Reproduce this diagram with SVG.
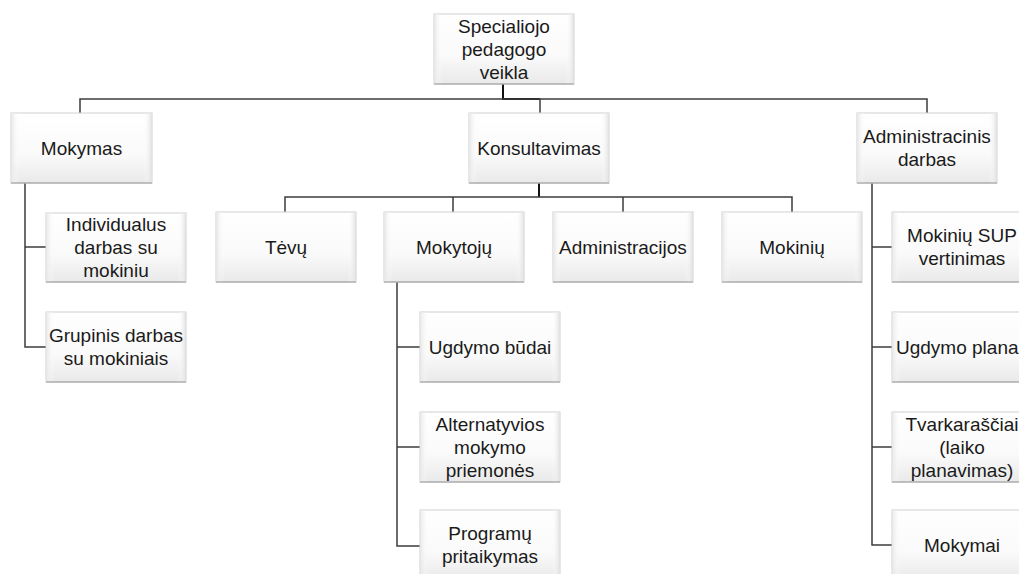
<svg xmlns="http://www.w3.org/2000/svg" width="1019" height="574" viewBox="0 0 1019 574">
<defs>
<linearGradient id="bg" x1="0" y1="0" x2="0" y2="1">
<stop offset="0" stop-color="#ffffff"/>
<stop offset="0.6" stop-color="#fafafa"/>
<stop offset="1" stop-color="#e9e9e9"/>
</linearGradient>
<linearGradient id="side" x1="0" y1="0" x2="1" y2="0">
<stop offset="0" stop-color="#e6e6e6"/>
<stop offset="0.06" stop-color="#ffffff" stop-opacity="0"/>
<stop offset="0.94" stop-color="#ffffff" stop-opacity="0"/>
<stop offset="1" stop-color="#e0e0e0"/>
</linearGradient>
</defs>
<style>
.box{fill:url(#bg);stroke:#cfcfcf;stroke-width:1}
.bev{fill:url(#side);stroke:none}
.bot{stroke:#9a9a9a;stroke-width:1.2}
.t{font-family:"Liberation Sans",Arial,sans-serif;font-size:19px;fill:#1a1a1a;text-anchor:middle}
.c{fill:none;stroke:#3c3c3c;stroke-width:1.5}
.cd{fill:none;stroke:#111;stroke-width:2}
</style>
<g id="connectors">
<path class="cd" d="M503,84 V99 H540"/>
<path class="c" d="M80,113 V99 H927 V113 M540,99 V113"/>
<path class="cd" d="M539,183 V197"/>
<path class="c" d="M285,212 V197 H792 V212 M453,197 V212 M623,197 V212"/>
<path class="c" d="M25,183 V347 H46 M25,247 H46"/>
<path class="c" d="M397,282 V546 H420 M397,347 H420 M397,447 H420"/>
<path class="c" d="M872,183 V545 H892 M872,247 H892 M872,347 H892 M872,447 H892"/>
</g>
<g id="n-root"><rect class="box" x="434" y="14" width="140" height="70"/><rect class="bev" x="434" y="14" width="140" height="70"/><line class="bot" x1="434" y1="84" x2="574" y2="84"/>
<text class="t" x="504" y="32.5">Specialiojo</text><text class="t" x="504" y="55.5">pedagogo</text><text class="t" x="504" y="78.5">veikla</text></g>
<g id="n-mokymas"><rect class="box" x="11" y="113" width="141" height="70"/><rect class="bev" x="11" y="113" width="141" height="70"/><line class="bot" x1="11" y1="183" x2="152" y2="183"/>
<text class="t" x="81.5" y="154.5">Mokymas</text></g>
<g id="n-konsultavimas"><rect class="box" x="469" y="113" width="140" height="70"/><rect class="bev" x="469" y="113" width="140" height="70"/><line class="bot" x1="469" y1="183" x2="609" y2="183"/>
<text class="t" x="539" y="154.5">Konsultavimas</text></g>
<g id="n-admin"><rect class="box" x="857" y="113" width="140" height="70"/><rect class="bev" x="857" y="113" width="140" height="70"/><line class="bot" x1="857" y1="183" x2="997" y2="183"/>
<text class="t" x="927" y="143">Administracinis</text><text class="t" x="927" y="166">darbas</text></g>
<g id="n-individualus"><rect class="box" x="46" y="213" width="140" height="69"/><rect class="bev" x="46" y="213" width="140" height="69"/><line class="bot" x1="46" y1="282" x2="186" y2="282"/>
<text class="t" x="116" y="231">Individualus</text><text class="t" x="116" y="254">darbas su</text><text class="t" x="116" y="277">mokiniu</text></g>
<g id="n-grupinis"><rect class="box" x="46" y="312" width="140" height="70"/><rect class="bev" x="46" y="312" width="140" height="70"/><line class="bot" x1="46" y1="382" x2="186" y2="382"/>
<text class="t" x="116" y="342">Grupinis darbas</text><text class="t" x="116" y="365">su mokiniais</text></g>
<g id="n-tevu"><rect class="box" x="216" y="212" width="140" height="70"/><rect class="bev" x="216" y="212" width="140" height="70"/><line class="bot" x1="216" y1="282" x2="356" y2="282"/>
<text class="t" x="286" y="253.5">Tėvų</text></g>
<g id="n-mokytoju"><rect class="box" x="384" y="212" width="140" height="70"/><rect class="bev" x="384" y="212" width="140" height="70"/><line class="bot" x1="384" y1="282" x2="524" y2="282"/>
<text class="t" x="454" y="253.5">Mokytojų</text></g>
<g id="n-administracijos"><rect class="box" x="553" y="212" width="140" height="70"/><rect class="bev" x="553" y="212" width="140" height="70"/><line class="bot" x1="553" y1="282" x2="693" y2="282"/>
<text class="t" x="623" y="253.5">Administracijos</text></g>
<g id="n-mokiniu"><rect class="box" x="722" y="212" width="140" height="70"/><rect class="bev" x="722" y="212" width="140" height="70"/><line class="bot" x1="722" y1="282" x2="862" y2="282"/>
<text class="t" x="792" y="253.5">Mokinių</text></g>
<g id="n-ugdymo-budai"><rect class="box" x="420" y="312" width="140" height="70"/><rect class="bev" x="420" y="312" width="140" height="70"/><line class="bot" x1="420" y1="382" x2="560" y2="382"/>
<text class="t" x="490" y="353.5">Ugdymo būdai</text></g>
<g id="n-alternatyvios"><rect class="box" x="420" y="412" width="140" height="70"/><rect class="bev" x="420" y="412" width="140" height="70"/><line class="bot" x1="420" y1="482" x2="560" y2="482"/>
<text class="t" x="490" y="430.5">Alternatyvios</text><text class="t" x="490" y="453.5">mokymo</text><text class="t" x="490" y="476.5">priemonės</text></g>
<g id="n-programu"><rect class="box" x="420" y="510" width="140" height="70"/><rect class="bev" x="420" y="510" width="140" height="70"/>
<text class="t" x="490" y="540">Programų</text><text class="t" x="490" y="563">pritaikymas</text></g>
<g id="n-sup"><rect class="box" x="892" y="212" width="140" height="70"/><rect class="bev" x="892" y="212" width="140" height="70"/><line class="bot" x1="892" y1="282" x2="1032" y2="282"/>
<text class="t" x="962" y="242">Mokinių SUP</text><text class="t" x="962" y="265">vertinimas</text></g>
<g id="n-planas"><rect class="box" x="892" y="312" width="140" height="70"/><rect class="bev" x="892" y="312" width="140" height="70"/><line class="bot" x1="892" y1="382" x2="1032" y2="382"/>
<text class="t" x="896" y="353.5" style="text-anchor:start">Ugdymo plana</text></g>
<g id="n-tvarkarasciai"><rect class="box" x="892" y="412" width="140" height="70"/><rect class="bev" x="892" y="412" width="140" height="70"/><line class="bot" x1="892" y1="482" x2="1032" y2="482"/>
<text class="t" x="962" y="430.5">Tvarkaraščiai</text><text class="t" x="962" y="453.5">(laiko</text><text class="t" x="962" y="476.5">planavimas)</text></g>
<g id="n-mokymai"><rect class="box" x="892" y="510" width="140" height="70"/><rect class="bev" x="892" y="510" width="140" height="70"/>
<text class="t" x="962" y="551.5">Mokymai</text></g>
</svg>
